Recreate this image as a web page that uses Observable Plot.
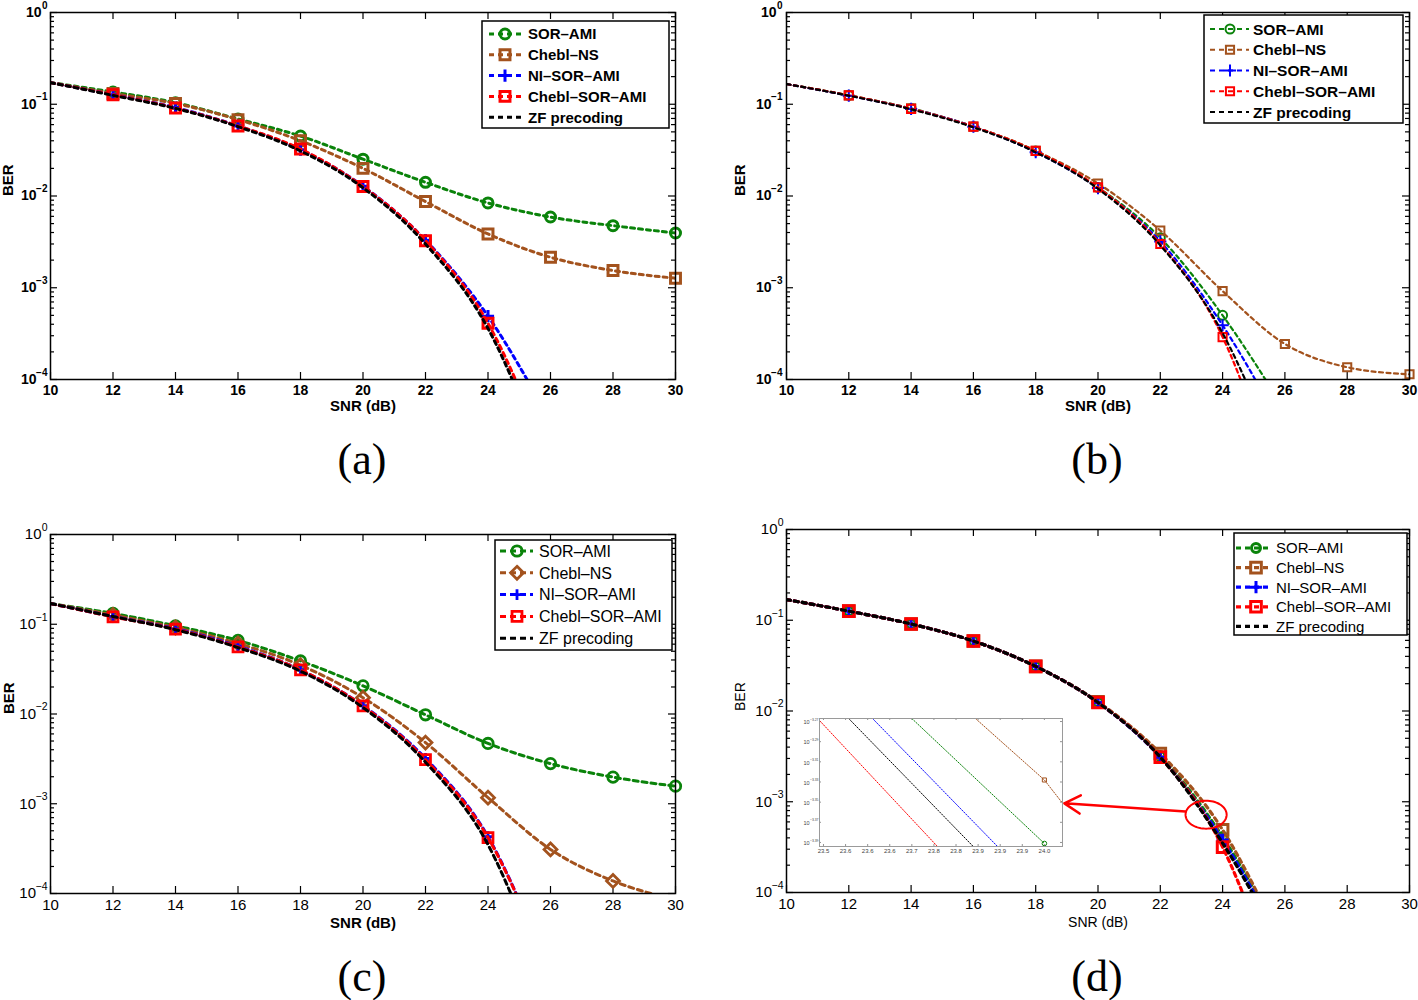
<!DOCTYPE html>
<html>
<head>
<meta charset="utf-8">
<script src="https://cdn.jsdelivr.net/npm/d3@7"></script>
<script src="https://cdn.jsdelivr.net/npm/@observablehq/plot@0.6"></script>
<style>
html,body{margin:0;padding:0;background:#fff;}
#wrap{position:relative;width:1418px;height:1000px;overflow:hidden;background:#fff;}
.panel{position:absolute;}
.plabel{position:absolute;width:140px;margin-left:-70px;text-align:center;font-family:"Liberation Serif","Times New Roman",serif;font-size:44px;line-height:52px;color:#000;}
</style>
</head>
<body>
<div id="wrap"></div>
<script>
// ---------------- data ----------------
const snr = [10, 12, 14, 16, 18, 20, 22, 24, 26, 28, 30];
const xTicks = [10, 12, 14, 16, 18, 20, 22, 24, 26, 28, 30];
const yTicks = [1, 0.1, 0.01, 0.001, 0.0001];
const seriesNames = ["SOR–AMI", "Chebl–NS", "NI–SOR–AMI", "Chebl–SOR–AMI", "ZF precoding"];
const seriesColors = ["#0a830a", "#a3521d", "#0000ff", "#ff0000", "#000000"];
const panelLabels = ["(a)", "(b)", "(c)", "(d)"];

// (a) BER values
const a_sor     = [0.172, 0.136, 0.104, 0.069, 0.045, 0.0252, 0.0141, 0.0084, 0.0059, 0.00475, 0.00395];
const a_chebNs  = [0.172, 0.131, 0.102, 0.068, 0.040, 0.0200, 0.0087, 0.00386, 0.00215, 0.00154, 0.00127];
const a_niSor   = [0.172, 0.127, 0.092, 0.058, 0.032, 0.0128, 0.0033, 0.00049, 0.000035, null, null];
const a_chebSor = [0.172, 0.127, 0.091, 0.058, 0.0325, 0.0127, 0.00326, 0.00041, 0.000012, null, null];
const a_zf      = [0.172, 0.125, 0.090, 0.057, 0.031, 0.0123, 0.0030, 0.00036, 0.000009, null, null];

// (b)
const b_sor     = [0.166, 0.125, 0.090, 0.057, 0.031, 0.0124, 0.0035, 0.00050, 0.000046, null, null];
const b_chebNs  = [0.166, 0.125, 0.090, 0.057, 0.031, 0.0137, 0.0042, 0.00092, 0.000244, 0.000136, 0.000114];
const b_niSor   = [0.166, 0.124, 0.089, 0.057, 0.030, 0.0122, 0.0032, 0.00039, 0.000026, null, null];
const b_chebSor = [0.166, 0.125, 0.089, 0.057, 0.031, 0.0124, 0.0030, 0.00029, 0.000004, null, null];
const b_zf      = [0.166, 0.124, 0.088, 0.056, 0.030, 0.0120, 0.0029, 0.00032, 0.000009, null, null];

// (c)
const c_sor     = [0.170, 0.132, 0.096, 0.066, 0.039, 0.0206, 0.0098, 0.0047, 0.0028, 0.00198, 0.00157];
const c_chebNs  = [0.170, 0.127, 0.092, 0.061, 0.035, 0.0152, 0.0048, 0.00117, 0.00031, 0.000138, 0.000085];
const c_niSor   = [0.170, 0.122, 0.089, 0.057, 0.031, 0.0124, 0.0032, 0.00043, 0.000012, null, null];
const c_chebSor = [0.170, 0.121, 0.088, 0.056, 0.031, 0.0123, 0.0031, 0.00042, 0.000012, null, null];
const c_zf      = [0.170, 0.122, 0.087, 0.055, 0.030, 0.0118, 0.0029, 0.00035, 0.000007, null, null];

// (d)
const d_sor     = [0.169, 0.126, 0.091, 0.059, 0.031, 0.0125, 0.0032, 0.00041, 0.000025, null, null];
const d_chebNs  = [0.169, 0.126, 0.091, 0.059, 0.031, 0.0126, 0.0034, 0.00049, 0.000023, null, null];
const d_niSor   = [0.169, 0.126, 0.091, 0.059, 0.031, 0.0124, 0.0031, 0.00038, 0.000023, null, null];
const d_chebSor = [0.169, 0.126, 0.091, 0.059, 0.031, 0.0124, 0.0031, 0.000316, 0.000005, null, null];
const d_zf      = [0.169, 0.126, 0.091, 0.059, 0.031, 0.0124, 0.0031, 0.00035, 0.000022, null, null];

// (d) zoomed inset: SNR and log10(BER)
const insetXTicks = [23.5, 23.55, 23.6, 23.65, 23.7, 23.75, 23.8, 23.85, 23.9, 23.95, 24];
const insetYTicks = [-3.27, -3.29, -3.31, -3.33, -3.35, -3.37, -3.39];
const inset_sor_snr     = [23.70, 24.0];           const inset_sor_exp     = [-3.267, -3.391];
const inset_chebNs_snr  = [23.844, 24.0, 24.041];  const inset_chebNs_exp  = [-3.267, -3.328, -3.351];
const inset_niSor_snr   = [23.611, 23.894];        const inset_niSor_exp   = [-3.267, -3.394];
const inset_chebSor_snr = [23.491, 23.758];        const inset_chebSor_exp = [-3.269, -3.394];
const inset_zf_snr      = [23.557, 23.839];        const inset_zf_exp      = [-3.267, -3.394];
const inset_marker_snr  = [24.0, 24.0];            const inset_marker_exp  = [-3.391, -3.328];

// (d) annotation: ellipse around the zoomed region and arrow to the inset
const zoomEllipse = {snr: 23.47, ber: 7.2e-4, halfWidthDb: 0.66, halfHeightDecades: 0.154};
const zoomArrow = {snr1: 22.81, ber1: 7.8e-4, snr2: 18.92, ber2: 9.6e-4};

// ---------------- drawing ----------------
const FONT = '"Liberation Sans", Arial, Helvetica, sans-serif';
const minorTicks = [];
for (const t of yTicks.slice(1)) for (let m = 2; m <= 9; m++) minorTicks.push(+(m * t).toPrecision(3));
const symbolFns = {circle: d3.symbolCircle, square: d3.symbolSquare, plus: d3.symbolPlus, diamond2: d3.symbolDiamond2};

function series(values, symbols) {
  return values.map((v, i) => ({name: seriesNames[i], color: seriesColors[i], values: v, symbol: symbols[i]}));
}

function makePanel(p) {
  const fw = p.width - p.ml - p.mr, fh = p.height - p.mt - p.mb;
  const marks = [
    Plot.tickX(xTicks, {x: d => d, insetTop: fh - p.tick, stroke: "#000", strokeWidth: 1.2}),
    Plot.tickX(xTicks, {x: d => d, insetBottom: fh - p.tick, stroke: "#000", strokeWidth: 1.2}),
    Plot.tickY(yTicks, {y: d => d, insetRight: fw - p.tick, stroke: "#000", strokeWidth: 1.2}),
    Plot.tickY(yTicks, {y: d => d, insetLeft: fw - p.tick, stroke: "#000", strokeWidth: 1.2}),
    Plot.tickY(minorTicks, {y: d => d, insetRight: fw - p.minor, stroke: "#000", strokeWidth: 1.2}),
    Plot.tickY(minorTicks, {y: d => d, insetLeft: fw - p.minor, stroke: "#000", strokeWidth: 1.2})
  ];
  p.series.forEach(s => {
    const rows = snr.map((x, i) => ({x, ber: s.values[i]})).filter(d => d.ber != null);
    marks.push(Plot.line(rows, {x: "x", y: "ber", stroke: s.color, strokeWidth: p.lw, strokeDasharray: p.dash, curve: "monotone-x", clip: true}));
    if (s.symbol) {
      marks.push(Plot.dot(rows.filter(d => d.x >= 12 && d.ber >= 1e-4), {
        x: "x", y: "ber", symbol: s.symbol, r: p.sym[s.symbol], stroke: s.color,
        strokeWidth: p.mw, fill: "none"
      }));
    }
  });
  if (p.extra) marks.push(...p.extra);
  marks.push(Plot.frame({stroke: "#000", strokeWidth: p.frameW}));
  marks.push(Plot.axisX(xTicks, {tickSize: 0, tickPadding: p.xPad, label: null, fontSize: p.tickFs}));
  const y0 = yTicks.filter(d => d === 1), yN = yTicks.filter(d => d < 1);
  marks.push(
    Plot.text(y0, {y: d => d, text: () => "10", frameAnchor: "left", textAnchor: "end", dx: -(p.ygap + p.expW0), fontSize: p.tickFs}),
    Plot.text(yN, {y: d => d, text: () => "10", frameAnchor: "left", textAnchor: "end", dx: -(p.ygap + p.expW1), fontSize: p.tickFs}),
    Plot.text(yTicks, {y: d => d, text: d => d === 1 ? "0" : "−" + (-Math.round(Math.log10(d))), frameAnchor: "left", textAnchor: "end", dx: -p.ygap, dy: -p.expRaise, fontSize: p.expFs}),
    Plot.text(["SNR (dB)"], {text: d => d, frameAnchor: "bottom", dy: p.xTitleDy, fontSize: p.titleFs, fontWeight: p.titleBold ? "bold" : "normal"}),
    Plot.text(["BER"], {text: d => d, frameAnchor: "left", rotate: -90, dx: p.yTitleDx, fontSize: p.titleFs, fontWeight: p.titleBold ? "bold" : "normal"})
  );
  const svg = Plot.plot({
    width: p.width, height: p.height,
    marginLeft: p.ml, marginRight: p.mr, marginTop: p.mt, marginBottom: p.mb,
    x: {domain: [10, 30]},
    y: {type: "log", domain: [1e-4, 1], axis: null},
    style: {fontFamily: FONT, fontSize: p.tickFs + "px", fontWeight: p.bold ? "bold" : "normal", color: "#000", background: "transparent", overflow: "visible"},
    marks
  });
  // legend box (MATLAB style, inside the axes)
  const L = p.legend;
  const g = d3.select(svg).append("g").attr("class", "legend");
  g.append("rect").attr("x", L.x).attr("y", L.y).attr("width", L.w).attr("height", L.h)
    .attr("fill", "#fff").attr("stroke", "#000").attr("stroke-width", p.frameW);
  p.series.forEach((s, i) => {
    const y = L.row0 + i * L.dy;
    g.append("line").attr("x1", L.lx1).attr("x2", L.lx2).attr("y1", y).attr("y2", y)
      .attr("stroke", s.color).attr("stroke-width", p.lw).attr("stroke-dasharray", p.legendDash || p.dash);
    if (s.symbol) {
      const r = p.sym[s.symbol];
      g.append("path").attr("d", d3.symbol(symbolFns[s.symbol], Math.PI * r * r)())
        .attr("transform", `translate(${L.mx},${y})`).attr("fill", "none")
        .attr("stroke", s.color).attr("stroke-width", p.mw);
    }
    g.append("text").attr("x", L.tx).attr("y", y).attr("dy", "0.36em").attr("text-anchor", "start")
      .attr("font-size", L.fs).attr("font-weight", p.bold ? "bold" : "normal").attr("fill", "#000").text(s.name);
  });
  const div = document.createElement("div");
  div.className = "panel";
  div.style.left = p.left + "px"; div.style.top = p.top + "px"; div.style.width = p.width + "px";
  div.appendChild(svg);
  document.getElementById("wrap").appendChild(div);
}

// ellipse outline and arrow for panel (d)
const ellipsePts = d3.range(0, 361, 5).map(a => {
  const t = a * Math.PI / 180;
  return {x: zoomEllipse.snr + zoomEllipse.halfWidthDb * Math.cos(t), ber: zoomEllipse.ber * Math.pow(10, zoomEllipse.halfHeightDecades * Math.sin(t))};
});
const annotD = [
  Plot.line(ellipsePts, {x: "x", y: "ber", stroke: "#ff0000", strokeWidth: 2, curve: "linear"}),
  Plot.arrow([zoomArrow], {x1: "snr1", y1: "ber1", x2: "snr2", y2: "ber2", stroke: "#ff0000", strokeWidth: 2.5, headLength: 11})
];

makePanel({
  left: 0, top: 0, width: 700, height: 420, ml: 50, mr: 25, mt: 12, mb: 41,
  series: series([a_sor, a_chebNs, a_niSor, a_chebSor, a_zf], ["circle", "square", "plus", "square", null]),
  lw: 3, dash: "4,4", legendDash: "5,4", mw: 3, sym: {circle: 5, square: 5.6, plus: 4},
  frameW: 1.5, tick: 7, minor: 4, bold: true, tickFs: 14, expFs: 10, expRaise: 7, ygap: 3, expW0: 6, expW1: 11,
  xPad: 6, titleFs: 15, titleBold: true, xTitleDy: 31, yTitleDx: -42,
  legend: {x: 482, y: 21, w: 187, h: 107, row0: 34, dy: 20.8, lx1: 489, lx2: 521, mx: 505, tx: 528, fs: 15}
});
makePanel({
  left: 709, top: 0, width: 709, height: 420, ml: 77, mr: 9, mt: 12, mb: 41,
  series: series([b_sor, b_chebNs, b_niSor, b_chebSor, b_zf], ["circle", "square", "plus", "square", null]),
  lw: 2.2, dash: "4,3.5", legendDash: "5,4", mw: 2, sym: {circle: 4.5, square: 4.6, plus: 4},
  frameW: 1.5, tick: 7, minor: 4, bold: true, tickFs: 14, expFs: 10, expRaise: 7, ygap: 4, expW0: 6, expW1: 11,
  xPad: 6, titleFs: 15, titleBold: true, xTitleDy: 31, yTitleDx: -46,
  legend: {x: 495, y: 15, w: 199, h: 108, row0: 29, dy: 20.75, lx1: 501, lx2: 540, mx: 521, tx: 544, fs: 15.5}
});
makePanel({
  left: 0, top: 510, width: 700, height: 440, ml: 50, mr: 25, mt: 24, mb: 57,
  series: series([c_sor, c_chebNs, c_niSor, c_chebSor, c_zf], ["circle", "diamond2", "plus", "square", null]),
  lw: 3, dash: "5,4", legendDash: "6,4", mw: 2.8, sym: {circle: 5.2, diamond2: 5.8, square: 5.6, plus: 3.5},
  frameW: 1.5, tick: 7, minor: 4, bold: false, tickFs: 15, expFs: 10.5, expRaise: 7, ygap: 3, expW0: 6, expW1: 11.5,
  xPad: 6, titleFs: 15, titleBold: true, xTitleDy: 34, yTitleDx: -41,
  legend: {x: 495, y: 30, w: 177, h: 110, row0: 41, dy: 21.8, lx1: 500, lx2: 533, mx: 517, tx: 539, fs: 16}
});
makePanel({
  left: 709, top: 505, width: 709, height: 440, ml: 77, mr: 9, mt: 24, mb: 53,
  series: series([d_sor, d_chebNs, d_niSor, d_chebSor, d_zf], ["circle", "square", "plus", "square", null]),
  lw: 3.2, dash: "4,4", legendDash: "5,4", mw: 3, sym: {circle: 4.5, square: 6, plus: 4},
  frameW: 1.5, tick: 7, minor: 4, bold: false, tickFs: 15, expFs: 10.5, expRaise: 7, ygap: 3, expW0: 6, expW1: 11.5,
  xPad: 6, titleFs: 14, titleBold: false, xTitleDy: 34, yTitleDx: -46,
  extra: annotD,
  legend: {x: 525, y: 28, w: 173, h: 102, row0: 43, dy: 19.6, lx1: 527, lx2: 563, mx: 547, tx: 567, fs: 15}
});

// ---------------- inset of panel (d) ----------------
(function () {
  const W = 272, H = 146, ml = 23, mr = 6, mt = 6, mb = 12;
  const fw = W - ml - mr, fh = H - mt - mb;
  const insetSeries = [
    {snr: inset_chebSor_snr, exp: inset_chebSor_exp, color: seriesColors[3]},
    {snr: inset_zf_snr, exp: inset_zf_exp, color: seriesColors[4]},
    {snr: inset_niSor_snr, exp: inset_niSor_exp, color: seriesColors[2]},
    {snr: inset_sor_snr, exp: inset_sor_exp, color: seriesColors[0]},
    {snr: inset_chebNs_snr, exp: inset_chebNs_exp, color: seriesColors[1]}
  ];
  const marks = [
    Plot.tickX(insetXTicks, {x: d => d, insetTop: fh - 2, stroke: "#777", strokeWidth: 0.8}),
    Plot.tickX(insetXTicks, {x: d => d, insetBottom: fh - 2, stroke: "#777", strokeWidth: 0.8}),
    Plot.tickY(insetYTicks, {y: d => d, insetRight: fw - 2, stroke: "#777", strokeWidth: 0.8}),
    Plot.tickY(insetYTicks, {y: d => d, insetLeft: fw - 2, stroke: "#777", strokeWidth: 0.8})
  ];
  insetSeries.forEach(s => {
    const rows = s.snr.map((x, i) => ({x, e: s.exp[i]}));
    marks.push(Plot.line(rows, {x: "x", y: "e", stroke: s.color, strokeWidth: 1, strokeDasharray: "1.3,1.6", clip: true}));
  });
  const mk = inset_marker_snr.map((x, i) => ({x, e: inset_marker_exp[i]}));
  marks.push(
    Plot.dot([mk[0]], {x: "x", y: "e", r: 2.3, stroke: seriesColors[0], strokeWidth: 1, fill: "none"}),
    Plot.dot([mk[1]], {x: "x", y: "e", symbol: "square", r: 2.3, stroke: seriesColors[1], strokeWidth: 1, fill: "none"}),
    Plot.frame({stroke: "#9a9a9a", strokeWidth: 1}),
    Plot.axisX(insetXTicks, {tickSize: 0, tickPadding: 2, label: null, fontSize: 6, fill: "#444"}),
    Plot.text(insetYTicks, {y: d => d, text: () => "10", frameAnchor: "left", textAnchor: "end", dx: -10, dy: 1, fontSize: 5.5, fill: "#444"}),
    Plot.text(insetYTicks, {y: d => d, text: d => "−" + (-d).toFixed(2), frameAnchor: "left", textAnchor: "end", dx: -1, dy: -2, fontSize: 3.4, fill: "#444"})
  );
  const svg = Plot.plot({
    width: W, height: H, marginLeft: ml, marginRight: mr, marginTop: mt, marginBottom: mb,
    x: {domain: [23.491, 24.041]},
    y: {domain: [-3.394, -3.267], axis: null},
    style: {fontFamily: FONT, fontSize: "6px", background: "transparent", overflow: "visible", color: "#444"},
    marks
  });
  const div = document.createElement("div");
  div.className = "panel";
  div.style.left = "796px"; div.style.top = "712px"; div.style.width = W + "px";
  div.appendChild(svg);
  document.getElementById("wrap").appendChild(div);
})();

// panel captions
[[362, 434], [1097, 434], [362, 951], [1097, 951]].forEach(([cx, top], i) => {
  const el = document.createElement("div");
  el.className = "plabel";
  el.style.left = cx + "px"; el.style.top = top + "px";
  el.textContent = panelLabels[i];
  document.getElementById("wrap").appendChild(el);
});
</script>
</body>
</html>
